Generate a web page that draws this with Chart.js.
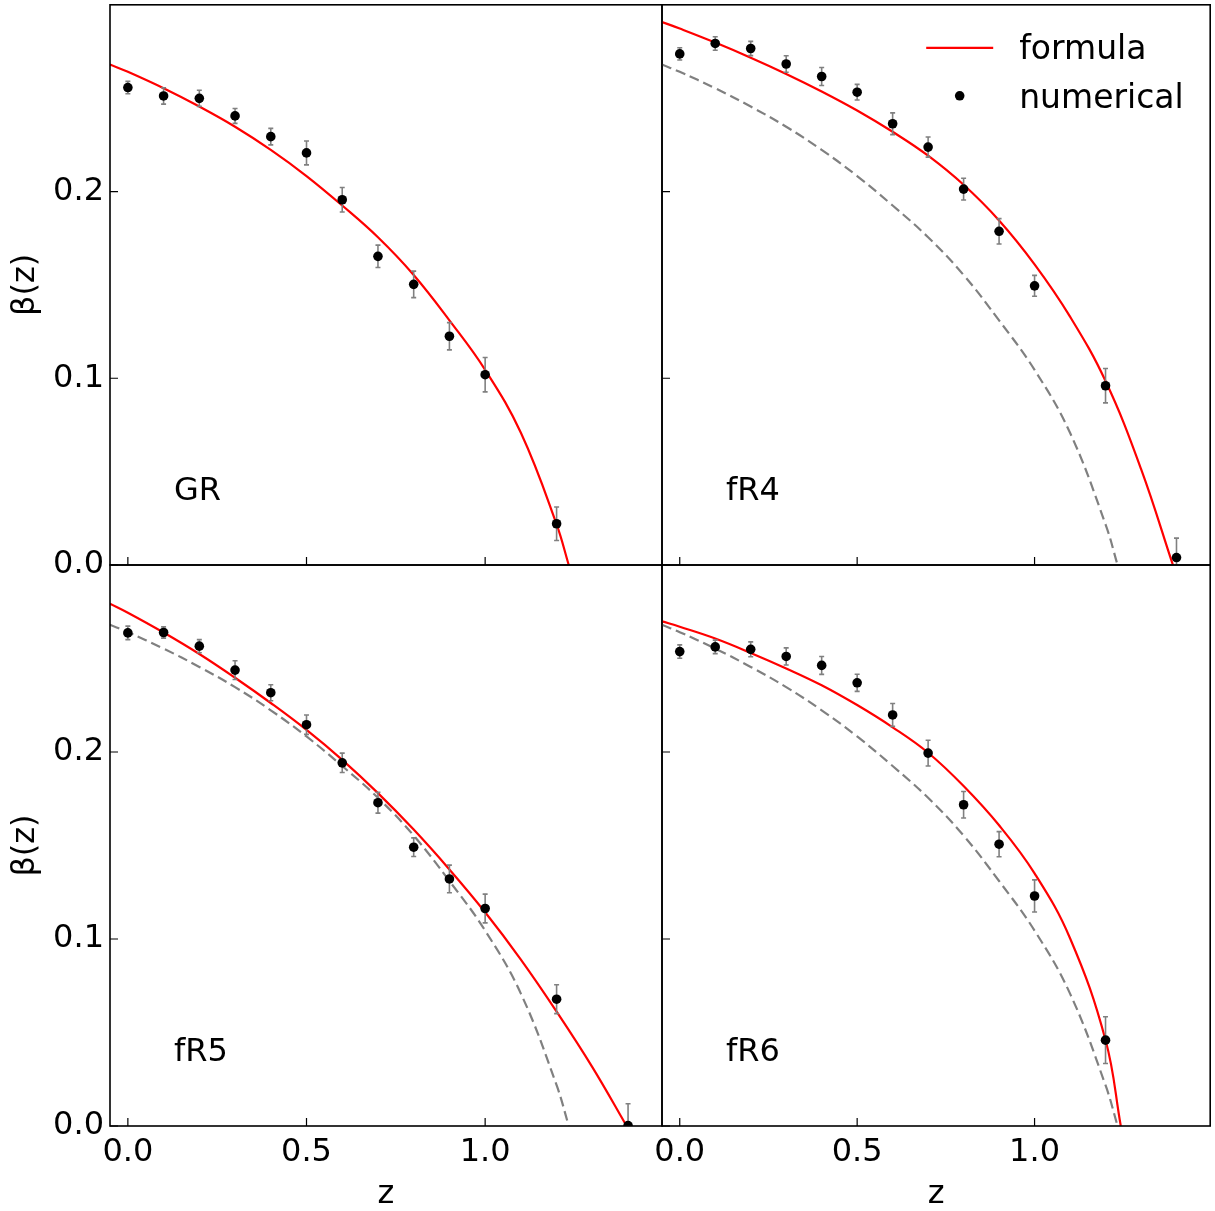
<!DOCTYPE html>
<html>
<head>
<meta charset="utf-8">
<script src="https://cdn.jsdelivr.net/npm/chart.js@4.4.0/dist/chart.umd.min.js"></script>
<style>
  html, body { margin: 0; padding: 0; background: #fff; }
  #wrap { position: relative; width: 1215px; height: 1211px; }
  #wrap canvas { position: absolute; left: 0; top: 0; }
</style>
</head>
<body>
<div id="wrap">
  <canvas id="cGR" width="1215" height="1211"></canvas>
  <canvas id="cFR4" width="1215" height="1211"></canvas>
  <canvas id="cFR5" width="1215" height="1211"></canvas>
  <canvas id="cFR6" width="1215" height="1211"></canvas>
</div>
<script>
// axis setup
const xRange = [-0.05, 1.495];
const yRange = [0, 0.3];
const xMajorTicks = [0, 0.5, 1.0];
const yMajorTicks = [0, 0.1, 0.2];

// redshifts of the numerical points
const zShort = [0, 0.1, 0.2, 0.3, 0.4, 0.5, 0.6, 0.7, 0.8, 0.9, 1.0, 1.2];
const zLong = [0, 0.1, 0.2, 0.3, 0.4, 0.5, 0.6, 0.7, 0.8, 0.9, 1.0, 1.2, 1.4];

// numerical beta(z) with errors
const grBeta = [0.2557, 0.2512, 0.2499, 0.2405, 0.2294, 0.2207, 0.1956, 0.1653, 0.1503, 0.1225, 0.1019, 0.0221];
const grErr = [0.0033, 0.0044, 0.0043, 0.0040, 0.0044, 0.0064, 0.0066, 0.0060, 0.0071, 0.0073, 0.0092, 0.0090];
const fr4Beta = [0.2737, 0.2793, 0.2766, 0.2683, 0.2616, 0.2532, 0.2363, 0.2238, 0.2013, 0.1787, 0.1495, 0.0960, 0.0040];
const fr4Err = [0.0033, 0.0036, 0.0038, 0.0044, 0.0048, 0.0042, 0.0058, 0.0054, 0.0058, 0.0068, 0.0056, 0.0092, 0.0104];
const fr5Beta = [0.2637, 0.2639, 0.2566, 0.2438, 0.2317, 0.2146, 0.1942, 0.1729, 0.1491, 0.1321, 0.1163, 0.0678, 0.0002];
const fr5Err = [0.0036, 0.0030, 0.0035, 0.0050, 0.0043, 0.0052, 0.0052, 0.0056, 0.0050, 0.0074, 0.0077, 0.0077, 0.0117];
const fr6Beta = [0.2537, 0.2562, 0.2549, 0.2511, 0.2463, 0.2370, 0.2198, 0.1994, 0.1718, 0.1507, 0.1230, 0.0459];
const fr6Err = [0.0036, 0.0036, 0.0040, 0.0046, 0.0048, 0.0046, 0.0061, 0.0069, 0.0071, 0.0067, 0.0086, 0.0125];

// formula curves
const grCurveZ = [-0.05, 0, 0.1, 0.2, 0.3, 0.4, 0.5, 0.6, 0.7, 0.8, 0.9, 1.0, 1.1, 1.2, 1.234];
const grCurveBeta = [0.2680, 0.2641, 0.2553, 0.2455, 0.2347, 0.2223, 0.2083, 0.1925, 0.1755, 0.1553, 0.1310, 0.1045, 0.0708, 0.0218, 0];
const fr4CurveZ = [-0.05, 0, 0.1, 0.2, 0.3, 0.4, 0.5, 0.6, 0.7, 0.8, 0.9, 1.0, 1.1, 1.2, 1.3, 1.39];
const fr4CurveBeta = [0.2908, 0.2873, 0.2798, 0.2717, 0.2630, 0.2536, 0.2434, 0.2320, 0.2192, 0.2036, 0.1845, 0.1610, 0.1330, 0.0985, 0.0515, 0];
const fr5CurveZ = [-0.05, 0, 0.1, 0.2, 0.3, 0.4, 0.5, 0.6, 0.7, 0.8, 0.9, 1.0, 1.1, 1.2, 1.3, 1.396];
const fr5CurveBeta = [0.2793, 0.2745, 0.2639, 0.2524, 0.2397, 0.2262, 0.2118, 0.1958, 0.1780, 0.1585, 0.1372, 0.1143, 0.0890, 0.0612, 0.0315, 0];
const fr6CurveZ = [-0.05, 0, 0.1, 0.2, 0.3, 0.4, 0.5, 0.6, 0.7, 0.8, 0.9, 1.0, 1.1, 1.2, 1.243];
const fr6CurveBeta = [0.2699, 0.2670, 0.2607, 0.2530, 0.2447, 0.2357, 0.2251, 0.2132, 0.1996, 0.1818, 0.1608, 0.1351, 0.1004, 0.0460, 0];

Chart.defaults.font.family = "'DejaVu Sans', sans-serif";
Chart.defaults.font.size = 32;
Chart.defaults.color = '#000';

function isMajor(v, majors) {
    return majors.some(m => Math.abs(m - v) < 1e-9);
}
function onGrid(v, step) {
    return Math.abs(v / step - Math.round(v / step)) < 1e-6;
}
function toPoints(xs, ys) {
    return xs.map((x, i) => ({ x: x, y: ys[i] }));
}
function noOverhang(s) {
    s.paddingTop = 0; s.paddingBottom = 0; s.paddingLeft = 0; s.paddingRight = 0;
}

// gray error bars, drawn just before the black dots
const errorBars = {
    id: 'errorBars',
    beforeDatasetDraw(chart, args) {
        const ds = chart.data.datasets[args.index];
        if (!ds.errors) return;
        const { ctx, chartArea: a, scales: { x, y } } = chart;
        ctx.save();
        ctx.beginPath();
        ctx.rect(a.left, a.top, a.right - a.left, a.bottom - a.top);
        ctx.clip();
        ctx.strokeStyle = '#808080';
        ctx.lineWidth = 1.6;
        ctx.beginPath();
        ds.data.forEach((pt, i) => {
            const px = x.getPixelForValue(pt.x);
            const y1 = y.getPixelForValue(pt.y + ds.errors[i]);
            const y2 = y.getPixelForValue(pt.y - ds.errors[i]);
            ctx.moveTo(px, y1); ctx.lineTo(px, y2);
            ctx.moveTo(px - 2.5, y1); ctx.lineTo(px + 2.5, y1);
            ctx.moveTo(px - 2.5, y2); ctx.lineTo(px + 2.5, y2);
        });
        ctx.stroke();
        ctx.restore();
    }
};

// frame, inward ticks, panel name and legend
const panelDecor = {
    id: 'panelDecor',
    afterDraw(chart, args, opts) {
        const { ctx, chartArea: a, scales: { x, y } } = chart;
        ctx.save();
        ctx.strokeStyle = '#000';
        ctx.lineWidth = 1.2;
        ctx.beginPath();
        x.ticks.forEach(t => {
            if (!onGrid(t.value, 0.1)) return;
            const px = x.getPixelForValue(t.value);
            const len = isMajor(t.value, xMajorTicks) ? 8 : 4.5;
            ctx.moveTo(px, a.bottom); ctx.lineTo(px, a.bottom - len);
        });
        y.ticks.forEach(t => {
            if (!onGrid(t.value, 0.02)) return;
            const py = y.getPixelForValue(t.value);
            const len = isMajor(t.value, yMajorTicks) ? 8 : 4.5;
            ctx.moveTo(a.left, py); ctx.lineTo(a.left + len, py);
        });
        ctx.stroke();
        ctx.lineWidth = 1.6;
        ctx.strokeRect(a.left, a.top, a.right - a.left, a.bottom - a.top);

        ctx.fillStyle = '#000';
        ctx.textAlign = 'left';
        ctx.textBaseline = 'alphabetic';
        ctx.font = "32px 'DejaVu Sans'";
        ctx.fillText(opts.name, a.left + 64, a.bottom - 65);

        if (opts.legend) {
            ctx.font = "33px 'DejaVu Sans'";
            ctx.strokeStyle = '#ff0000';
            ctx.lineWidth = 2.2;
            ctx.beginPath();
            ctx.moveTo(a.right - 284, a.top + 43);
            ctx.lineTo(a.right - 217, a.top + 43);
            ctx.stroke();
            ctx.fillText('formula', a.right - 191, a.top + 54.5);
            ctx.beginPath();
            ctx.arc(a.right - 250.5, a.top + 91, 4.8, 0, Math.PI * 2);
            ctx.fill();
            ctx.fillText('numerical', a.right - 191, a.top + 103);
        }
        ctx.restore();
    }
};

const panels = [
    { id: 'cGR', name: 'GR', row: 0, col: 0, z: zShort, beta: grBeta, err: grErr, cz: grCurveZ, cb: grCurveBeta, gr: false, legend: false },
    { id: 'cFR4', name: 'fR4', row: 0, col: 1, z: zLong, beta: fr4Beta, err: fr4Err, cz: fr4CurveZ, cb: fr4CurveBeta, gr: true, legend: true },
    { id: 'cFR5', name: 'fR5', row: 1, col: 0, z: zLong, beta: fr5Beta, err: fr5Err, cz: fr5CurveZ, cb: fr5CurveBeta, gr: true, legend: false },
    { id: 'cFR6', name: 'fR6', row: 1, col: 1, z: zShort, beta: fr6Beta, err: fr6Err, cz: fr6CurveZ, cb: fr6CurveBeta, gr: true, legend: false }
];

panels.forEach(p => {
    const isLeft = p.col === 0;
    const isBottom = p.row === 1;
    const area = {
        left: isLeft ? 110 : 662,
        right: isLeft ? 662 : 1214,
        top: isBottom ? 565 : 4,
        bottom: isBottom ? 1126 : 565
    };

    const datasets = [
        {
            type: 'scatter',
            label: 'numerical',
            data: toPoints(p.z, p.beta),
            errors: p.err,
            pointRadius: 4.8,
            pointBackgroundColor: '#000',
            pointBorderWidth: 0,
            clip: 0
        },
        {
            type: 'line',
            label: 'formula',
            data: toPoints(p.cz, p.cb),
            borderColor: '#ff0000',
            borderWidth: 2.2,
            pointRadius: 0,
            tension: 0.4,
            fill: false,
            clip: 0
        }
    ];
    if (p.gr) {
        datasets.push({
            type: 'line',
            label: 'GR',
            data: toPoints(grCurveZ, grCurveBeta),
            borderColor: '#808080',
            borderWidth: 2.2,
            borderDash: [10, 5],
            pointRadius: 0,
            tension: 0.4,
            fill: false,
            clip: 0
        });
    }

    new Chart(document.getElementById(p.id), {
        type: 'scatter',
        data: { datasets: datasets },
        options: {
            responsive: false,
            animation: false,
            devicePixelRatio: 1,
            events: [],
            layout: {
                padding: {
                    left: isLeft ? 0 : area.left,
                    top: area.top,
                    right: 1215 - area.right,
                    bottom: isBottom ? 0 : 1211 - area.bottom
                }
            },
            plugins: {
                legend: { display: false },
                tooltip: { enabled: false },
                panelDecor: { name: p.name, legend: p.legend }
            },
            scales: {
                x: {
                    type: 'linear',
                    min: xRange[0],
                    max: xRange[1],
                    grid: { display: false, drawTicks: false },
                    border: { display: false },
                    ticks: {
                        display: isBottom,
                        stepSize: 0.1,
                        includeBounds: false,
                        autoSkip: false,
                        maxRotation: 0,
                        minRotation: 0,
                        padding: 7,
                        callback: v => isMajor(v, xMajorTicks) ? v.toFixed(1) : null
                    },
                    title: {
                        display: isBottom,
                        text: 'z',
                        font: { lineHeight: 1.0 },
                        padding: { top: 0, bottom: 0 }
                    },
                    afterFit: s => { s.height = isBottom ? 1211 - area.bottom : 0; noOverhang(s); }
                },
                y: {
                    type: 'linear',
                    min: yRange[0],
                    max: yRange[1],
                    grid: { display: false, drawTicks: false },
                    border: { display: false },
                    ticks: {
                        display: isLeft,
                        stepSize: 0.02,
                        autoSkip: false,
                        padding: 6,
                        callback: v => isMajor(v, yMajorTicks) ? v.toFixed(1) : null
                    },
                    title: {
                        display: isLeft,
                        text: 'β(z)',
                        padding: { top: 6, bottom: 0 }
                    },
                    afterFit: s => { s.width = isLeft ? area.left : 0; noOverhang(s); }
                }
            }
        },
        plugins: [errorBars, panelDecor]
    });
});
</script>
</body>
</html>
